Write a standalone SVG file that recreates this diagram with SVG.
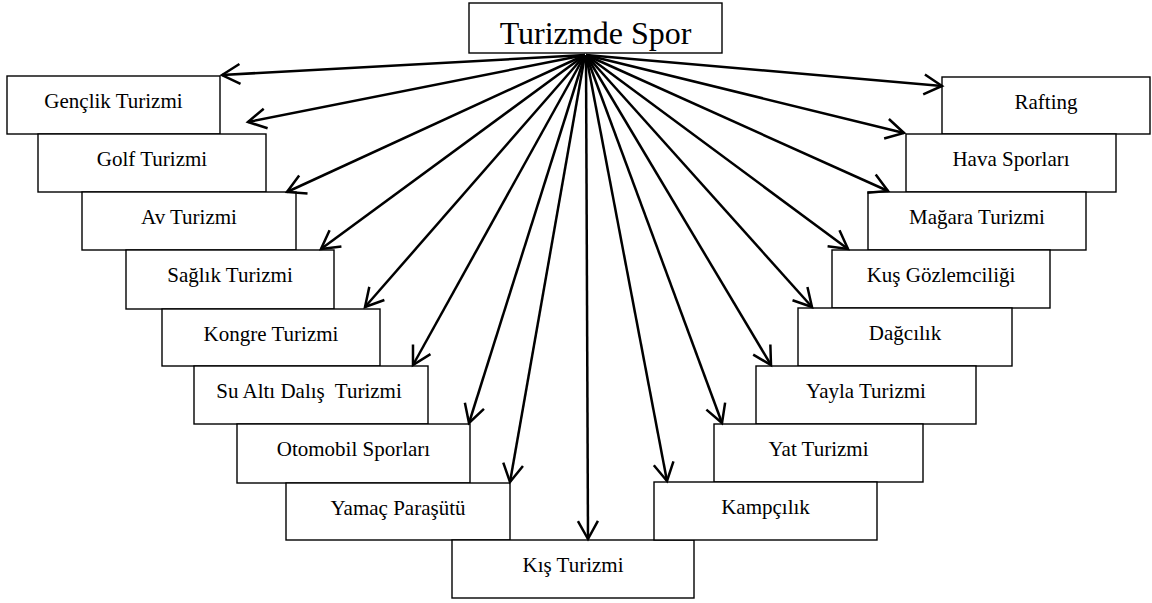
<svg xmlns="http://www.w3.org/2000/svg" width="1152" height="603" viewBox="0 0 1152 603">
<style>
.box{fill:#fff;stroke:#000;stroke-width:1.4}
.lbl{font-family:"Liberation Serif","Times New Roman",serif;font-size:21px;fill:#000;text-anchor:middle;white-space:pre}
.title{font-size:32px}
.conn{stroke:#000;stroke-width:2.5;fill:none;marker-end:url(#arr)}
</style>
<defs>
<marker id="arr" markerUnits="userSpaceOnUse" markerWidth="30" markerHeight="30" viewBox="-25 -15 30 30" refX="0" refY="0" orient="auto">
<path d="M-18,-10 L0,0 L-18,10" fill="none" stroke="#000" stroke-width="2.5" stroke-linejoin="miter"/>
</marker>
</defs>
<rect width="1152" height="603" fill="#fff"/>
<g id="n-turizmde-spor"><rect class="box" x="469" y="3" width="253" height="50"/><text class="lbl title" x="595.5" y="44">Turizmde Spor</text></g>
<g id="n-genclik"><rect class="box" x="7" y="76" width="213" height="58"/><text class="lbl" x="113.5" y="108">Gençlik Turizmi</text></g>
<g id="n-golf"><rect class="box" x="38" y="134" width="228" height="58"/><text class="lbl" x="152" y="166">Golf Turizmi</text></g>
<g id="n-av"><rect class="box" x="82" y="192" width="214" height="58"/><text class="lbl" x="189" y="224">Av Turizmi</text></g>
<g id="n-saglik"><rect class="box" x="126" y="250" width="208" height="59"/><text class="lbl" x="230" y="282">Sağlık Turizmi</text></g>
<g id="n-kongre"><rect class="box" x="162" y="309" width="218" height="57"/><text class="lbl" x="271" y="341">Kongre Turizmi</text></g>
<g id="n-sualti"><rect class="box" x="194" y="366" width="234" height="58"/><text class="lbl" x="309" y="398">Su Altı Dalış  Turizmi</text></g>
<g id="n-otomobil"><rect class="box" x="237" y="424" width="233" height="59"/><text class="lbl" x="353.5" y="456">Otomobil Sporları</text></g>
<g id="n-yamac"><rect class="box" x="286" y="483" width="224" height="57"/><text class="lbl" x="398" y="515">Yamaç Paraşütü</text></g>
<g id="n-kis"><rect class="box" x="452" y="540" width="242" height="58"/><text class="lbl" x="573" y="572">Kış Turizmi</text></g>
<g id="n-rafting"><rect class="box" x="942" y="77" width="208" height="57"/><text class="lbl" x="1046" y="109">Rafting</text></g>
<g id="n-hava"><rect class="box" x="906" y="134" width="210" height="58"/><text class="lbl" x="1011" y="166">Hava Sporları</text></g>
<g id="n-magara"><rect class="box" x="868" y="192" width="218" height="58"/><text class="lbl" x="977" y="224">Mağara Turizmi</text></g>
<g id="n-kus"><rect class="box" x="832" y="250" width="218" height="58"/><text class="lbl" x="941" y="282">Kuş Gözlemciliği</text></g>
<g id="n-dagcilik"><rect class="box" x="798" y="308" width="214" height="58"/><text class="lbl" x="905" y="340">Dağcılık</text></g>
<g id="n-yayla"><rect class="box" x="756" y="366" width="220" height="58"/><text class="lbl" x="866" y="398">Yayla Turizmi</text></g>
<g id="n-yat"><rect class="box" x="714" y="424" width="209" height="58"/><text class="lbl" x="818.5" y="456">Yat Turizmi</text></g>
<g id="n-kampcilik"><rect class="box" x="654" y="482" width="223" height="58"/><text class="lbl" x="765.5" y="514">Kampçılık</text></g>
<g id="connectors">
<line class="conn" x1="585" y1="55" x2="222" y2="75"/>
<line class="conn" x1="585" y1="55" x2="248" y2="122"/>
<line class="conn" x1="585" y1="55" x2="287" y2="192"/>
<line class="conn" x1="585" y1="55" x2="321" y2="249"/>
<line class="conn" x1="585" y1="55" x2="365" y2="307"/>
<line class="conn" x1="585" y1="55" x2="413" y2="365"/>
<line class="conn" x1="585" y1="55" x2="469" y2="423"/>
<line class="conn" x1="585" y1="55" x2="510" y2="482"/>
<line class="conn" x1="586" y1="55" x2="588" y2="539"/>
<line class="conn" x1="586" y1="55" x2="667" y2="481"/>
<line class="conn" x1="586" y1="55" x2="722" y2="423"/>
<line class="conn" x1="586" y1="55" x2="771" y2="365"/>
<line class="conn" x1="586" y1="55" x2="812" y2="307"/>
<line class="conn" x1="586" y1="55" x2="848" y2="249"/>
<line class="conn" x1="586" y1="55" x2="888" y2="191"/>
<line class="conn" x1="586" y1="55" x2="904" y2="133"/>
<line class="conn" x1="586" y1="55" x2="942" y2="86"/>
</g>
</svg>
